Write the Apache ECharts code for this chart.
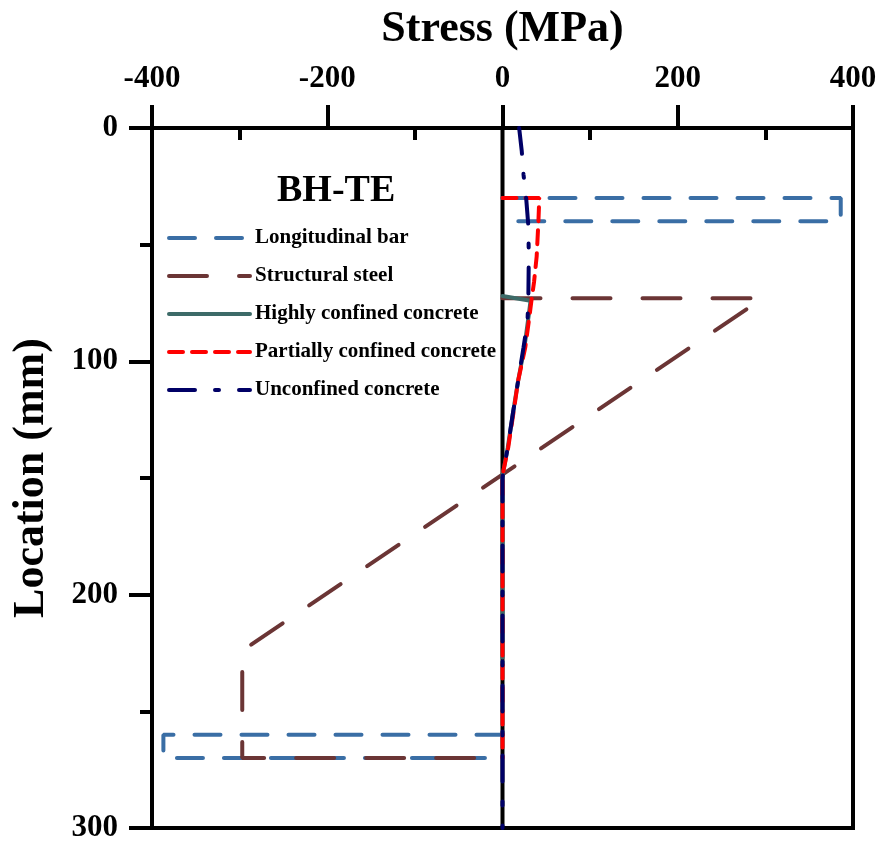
<!DOCTYPE html>
<html>
<head>
<meta charset="utf-8">
<script src="https://cdn.jsdelivr.net/npm/echarts@6/dist/echarts.min.js"></script>
<style>
  html, body { margin: 0; padding: 0; background: #fff; }
  #chart { width: 880px; height: 845px; }
</style>
</head>
<body>
<div id="chart"></div>
<script>
// 数据：应力 (MPa) 与 位置 (mm)
const seriesNames = ['Longitudinal bar', 'Structural steel', 'Highly confined concrete', 'Partially confined concrete', 'Unconfined concrete']

// 纵筋 (上、下两根)
const barTopStress = [0, 386, 386, 0]
const barTopLoc = [30, 30, 40, 40]
const barBotStress = [0, -387, -387, 0]
const barBotLoc = [260, 260, 270, 270]

// 型钢
const steelStress = [0, 297, -297, -297, 0]
const steelLoc = [73, 73, 224, 270, 270]

// 高约束混凝土
const highStress = [0, 32, 30, 25, 18, 12, 6, 1, 0, 0]
const highLoc = [72, 74, 80, 94, 108, 122, 137, 147, 150, 227]

// 部分约束混凝土
const partStress = [0, 42, 41, 39, 36, 33, 31, 26, 18, 12.5, 6.5, 1, 0, 0]
const partLoc = [30, 30, 40, 55, 66, 74, 80, 94, 108, 122, 137, 147, 150, 270]

// 无约束混凝土
const unconStress = [19, 22, 24, 27, 29.5, 30, 29.5, 28.5, 24, 18, 12, 6, 1, 0, 0]
const unconLoc = [0, 10, 20, 30, 42, 55, 73, 83, 94, 108, 122, 137, 147, 150, 300]

// 零应力线
const zeroStress = [0, 0]
const zeroLoc = [0, 300]

const xTicks = [-400, -200, 0, 200, 400]
const xMinorTicks = [-300, -100, 100, 300]

function zip(xs, ys) {
    return xs.map((v, i) => [v, ys[i]])
}

const font = "'Liberation Serif', 'Times New Roman', serif"
const colors = ['#3a6ea5', '#6b3535', '#3d6b68', '#ff0000', '#000066']

function lineSeries(name, data, color, type, z) {
    return {
        type: 'line',
        name: name,
        data: data,
        showSymbol: false,
        symbol: 'none',
        silent: true,
        z: z,
        lineStyle: { color: color, width: 4, type: type, cap: 'round' },
        itemStyle: { color: color }
    }
}

const cs = echarts.init(document.getElementById('chart'))
const option = {
    animation: false,
    backgroundColor: '#fff',
    title: {
        text: 'BH-TE',
        left: 272,
        top: 167,
        textStyle: { fontFamily: font, fontWeight: 'bold', fontSize: 38, color: '#000' }
    },
    legend: {
        data: seriesNames,
        orient: 'vertical',
        left: 162,
        top: 222,
        itemWidth: 81,
        itemHeight: 14,
        itemGap: 16,
        selectedMode: false,
        itemStyle: { opacity: 0 },
        lineStyle: { width: 4 },
        textStyle: { fontFamily: font, fontWeight: 'bold', fontSize: 21, color: '#000', lineHeight: 22 }
    },
    grid: {
        left: 152, right: 27, top: 128, bottom: 17,
        show: true, borderColor: '#000', borderWidth: 4
    },
    xAxis: [
        {
            type: 'value',
            position: 'top',
            min: -400, max: 400, interval: 200,
            name: 'Stress (MPa)',
            nameLocation: 'middle',
            nameGap: 76,
            nameTextStyle: { fontFamily: font, fontWeight: 'bold', fontSize: 44, color: '#000' },
            axisLine: { show: true, onZero: false, lineStyle: { color: '#000', width: 4 } },
            axisTick: { show: true, inside: false, length: 23, lineStyle: { color: '#000', width: 4 } },
            axisLabel: {
                margin: 34,
                fontFamily: font, fontWeight: 'bold', fontSize: 31, color: '#000',
                customValues: xTicks
            },
            splitLine: { show: false }
        },
        {
            type: 'value',
            position: 'top',
            min: -400, max: 400, interval: 100,
            axisLine: { show: false },
            axisLabel: { show: false },
            axisTick: { show: true, inside: true, length: 12, customValues: xMinorTicks, lineStyle: { color: '#000', width: 4 } },
            splitLine: { show: false }
        }
    ],
    yAxis: {
        type: 'value',
        inverse: true,
        min: 0, max: 300, interval: 100,
        name: 'Location (mm)',
        nameLocation: 'middle',
        nameGap: 98,
        nameTextStyle: { fontFamily: font, fontWeight: 'bold', fontSize: 44, color: '#000' },
        axisLine: { show: true, onZero: false, lineStyle: { color: '#000', width: 4 } },
        axisTick: { show: true, inside: false, length: 23, lineStyle: { color: '#000', width: 4 } },
        minorTick: { show: true, splitNumber: 2, length: 12, lineStyle: { color: '#000', width: 4 } },
        axisLabel: { margin: 34, fontFamily: font, fontWeight: 'bold', fontSize: 31, color: '#000' },
        splitLine: { show: false },
        minorSplitLine: { show: false }
    },
    series: [
        lineSeries('zero', zip(zeroStress, zeroLoc), '#000', 'solid', 1),
        lineSeries(seriesNames[0], zip(barTopStress, barTopLoc), colors[0], [26, 21], 2),
        lineSeries(seriesNames[0], zip(barBotStress, barBotLoc), colors[0], [26, 21], 2),
        lineSeries(seriesNames[1], zip(steelStress, steelLoc), colors[1], [38, 32], 3),
        lineSeries(seriesNames[2], zip(highStress, highLoc), colors[2], 'solid', 4),
        lineSeries(seriesNames[3], zip(partStress, partLoc), colors[3], [14, 9], 5),
        lineSeries(seriesNames[4], zip(unconStress, unconLoc), colors[4], [26, 20, 4, 20], 6)
    ]
}
cs.setOption(option)
</script>
</body>
</html>
